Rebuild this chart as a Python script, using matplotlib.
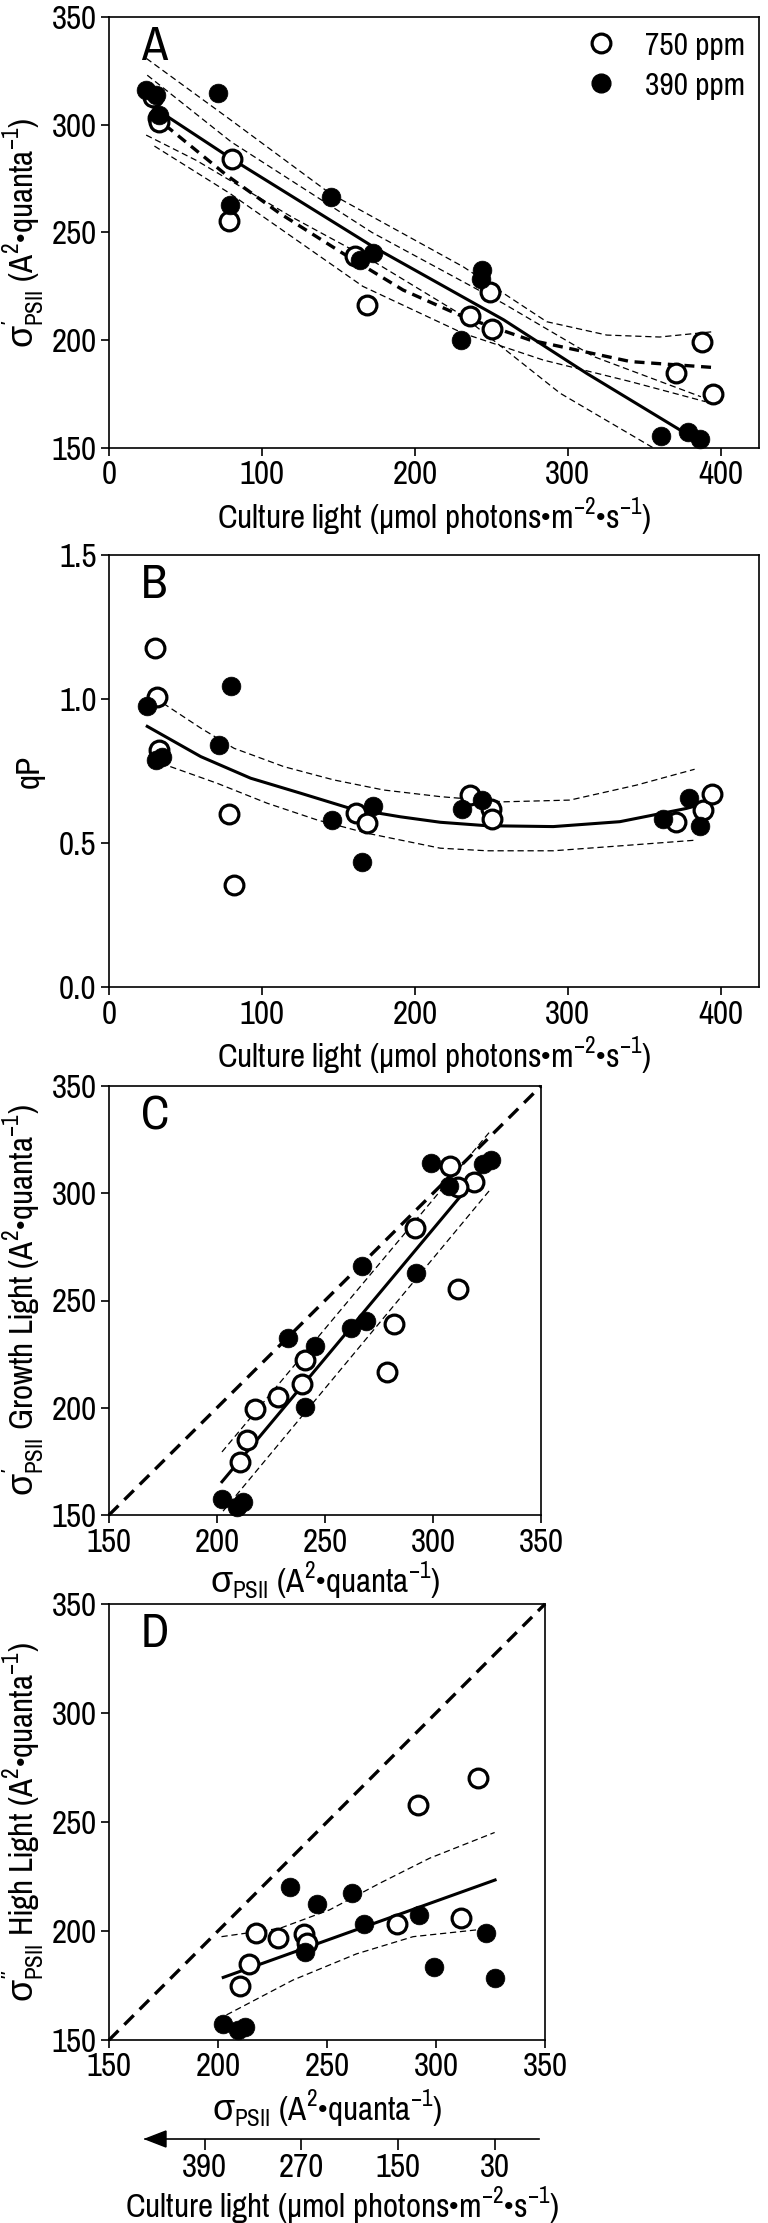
import matplotlib
matplotlib.use('Agg')
import matplotlib.pyplot as plt
from matplotlib import font_manager as fm
from matplotlib.lines import Line2D
from matplotlib.patches import Polygon

# condensed Arial-like face if one is installed
names = {f.name for f in fm.fontManager.ttflist}
prefs = ['Pragati Narrow', 'PT Sans Narrow', 'Archivo Narrow', 'Roboto Condensed', 'Liberation Sans']
base = next(n for n in prefs if n in names)

plt.rcParams.update({
    'font.family': [base, 'Liberation Sans', 'DejaVu Sans'],
    'mathtext.fontset': 'custom',
    'mathtext.rm': base,
    'mathtext.it': 'Liberation Sans',   # greek sigma comes from here
    'mathtext.bf': base,
    'mathtext.fallback': 'stixsans',
})

# ---- panel A : sigma' vs culture light
A_light_750 = [28.6, 31.9, 33, 80.6, 78.2, 160.7, 168.4, 236, 249.1, 250.2, 387.7, 370.7, 394.7]
A_sig_750 = [313, 303, 301.4, 284.0, 255.3, 239.1, 216.4, 211.3, 222.2, 205.1, 199.3, 185.0, 174.9]
A_light_390 = [24.3, 30.8, 33, 71.2, 78.8, 145.4, 164, 172.3, 230.1, 243.7, 243, 361.1, 378.6, 386.2]
A_sig_390 = [316.1, 313.8, 304.5, 314.6, 262.8, 266.3, 237.2, 240.6, 200.1, 232.6, 228.3, 155.7, 157.6, 154.0]

fit390_x = [26, 80.6, 172.7, 258, 312.4, 380]
fit390_y = [309.5, 284.0, 243.4, 209.5, 184.6, 155.5]
ci390_up_x = [25, 80, 172, 258, 317, 387]
ci390_up_y = [323, 292, 250, 217, 192.4, 173.8]
ci390_lo_x = [24.3, 57, 120, 172, 230, 295, 356]
ci390_lo_y = [295.2, 283.5, 257, 237, 212, 175.4, 150]

fit750_x = [28, 34, 76.7, 111.6, 153, 192.3, 231.6, 275.3, 341, 394.3]
fit750_y = [304.5, 301.4, 276.7, 258.9, 240.3, 223.3, 210.9, 200.1, 190.1, 187.4]
ci750_up_x = [24.4, 80, 144.4, 231.6, 286.2, 325.5, 360, 395.4]
ci750_up_y = [330.8, 302, 268.2, 234.1, 208.6, 202.4, 201.5, 204]
ci750_lo_x = [29.7, 78.9, 166, 231.6, 284, 341, 390]
ci750_lo_y = [290.1, 268.2, 225, 203.2, 190.8, 180.8, 171.5]

# ---- panel B : qP vs culture light
B_light_750 = [29.9, 31.5, 33, 78.7, 81.9, 161.5, 168.9, 236.3, 249.8, 250.7, 370.8, 388.4, 394.2]
B_qp_750 = [1.176, 1.006, 0.823, 0.602, 0.355, 0.605, 0.570, 0.666, 0.619, 0.585, 0.573, 0.614, 0.669]
B_light_390 = [25, 30.5, 34.7, 72.2, 79.6, 146, 165.4, 172.7, 230.5, 244, 362, 379, 386.2]
B_qp_390 = [0.976, 0.787, 0.799, 0.842, 1.046, 0.579, 0.434, 0.627, 0.619, 0.651, 0.585, 0.656, 0.558]

fitB_x = [25, 60, 92.6, 125.2, 157.8, 190.5, 216.6, 247, 290.5, 334, 377.5, 385]
fitB_y = [0.905, 0.800, 0.725, 0.673, 0.620, 0.591, 0.572, 0.560, 0.557, 0.574, 0.620, 0.631]
ciB_up_x = [30, 60, 81.7, 114.4, 147, 179.6, 216.6, 257.9, 301.4, 344.9, 382.9]
ciB_up_y = [1.004, 0.899, 0.829, 0.765, 0.719, 0.684, 0.661, 0.643, 0.649, 0.701, 0.756]
ciB_lo_x = [33.9, 70.9, 103.5, 136.1, 168.7, 216.6, 247, 290.5, 334, 384]
ciB_lo_y = [0.777, 0.707, 0.638, 0.580, 0.534, 0.482, 0.473, 0.473, 0.490, 0.510]

# ---- panel C : sigma' growth light vs sigma
C_sig_750 = [308.1, 319, 311.5, 291.8, 311.5, 282, 278.7, 240.6, 239.5, 228.1, 217.5, 214.1, 210.7]
C_sigp_750 = [312.8, 305.1, 302.7, 283.7, 255.4, 239.2, 216.8, 222.3, 211.3, 204.8, 199.3, 185, 174.8]
C_sig_390 = [299, 323.3, 326.9, 307.4, 267.3, 292.2, 262.1, 269.1, 232.9, 245.4, 240.6, 202.3, 209.1, 212]
C_sigp_390 = [314.3, 313.8, 315.6, 303.6, 265.9, 262.6, 237, 240.6, 232.4, 228.7, 200.2, 157.4, 153.7, 156.1]

fitC_x = [202.3, 327]
fitC_y = [165.5, 315.8]
ciC_up_x = [202.3, 326.9]
ciC_up_y = [179.4, 329.4]
ciC_lo_x = [202.8, 326.9]
ciC_lo_y = [151.8, 302.2]

# ---- panel D : sigma'' high light vs sigma
D_sig_750 = [319.2, 291.6, 311.3, 282.1, 217.6, 227.5, 239.4, 241, 214, 210.2]
D_sigpp_750 = [270.4, 257.8, 205.9, 203, 199.1, 196.6, 198.5, 194.3, 185, 174.6]
D_sig_390 = [233.1, 261.5, 245.5, 267.1, 292.4, 240.1, 323, 299, 327.1, 202.4, 209.1, 212.5]
D_sigpp_390 = [220.3, 217.6, 212.2, 203, 207.2, 190.3, 199, 183.6, 178.5, 157.2, 154.5, 155.8]

fitD_x = [202.4, 327.1]
fitD_y = [178.7, 223.4]
ciD_up_x = [201.6, 228.3, 251.2, 274.2, 297.1, 326.9]
ciD_up_y = [197.4, 201.2, 209.7, 221.9, 233.4, 245.2]
ciD_lo_x = [203.9, 234.4, 263.5, 289.5, 318.5, 326]
ciD_lo_y = [161.5, 177.5, 189.5, 197.4, 200.5, 201]

one_to_one = [150, 350]
light_ticks = [390, 270, 150, 30]

sig_lab = r'$\sigma_{\mathrm{PSII}}$ (A$^{2}$•quanta$^{-1}$)'
light_lab = r'Culture light (μmol photons•m$^{-2}$•s$^{-1}$)'
A_ylab = r'$\sigma^{\prime}_{\mathrm{PSII}}$ (A$^{2}$•quanta$^{-1}$)'
C_ylab = r'$\sigma^{\prime}_{\mathrm{PSII}}$ Growth Light (A$^{2}$•quanta$^{-1}$)'
D_ylab = r'$\sigma^{\prime\prime}_{\mathrm{PSII}}$ High Light (A$^{2}$•quanta$^{-1}$)'

W, H = 768, 2223
fig = plt.figure(figsize=(W / 100, H / 100), dpi=100)

# size the text so the culture-light label is as wide as in the figure (~435 px)
probe = fig.text(0, 0, light_lab, fontsize=20)
fig.canvas.draw()
fs = 20 * 435 / probe.get_window_extent().width
probe.remove()


def px_axes(l, t, r, b):
    return fig.add_axes([l / W, 1 - b / H, (r - l) / W, (b - t) / H])


def style(ax):
    for s in ax.spines.values():
        s.set_linewidth(1.2)
    ax.tick_params(direction='out', length=6, width=1.2, labelsize=fs, pad=3)


def points(ax, x1, y1, x2, y2):
    ax.plot(x1, y1, 'o', ms=13.5, mfc='white', mec='black', mew=2.3, ls='none', clip_on=False, zorder=5)
    ax.plot(x2, y2, 'o', ms=13.5, mfc='black', mec='black', mew=0.5, ls='none', clip_on=False, zorder=6)


def thin(ax, x, y):
    ax.plot(x, y, color='black', lw=0.9, ls=(0, (5, 3)), zorder=3)


def letter(ax, s):
    ax.annotate(s, xy=(0, 1), xycoords='axes fraction', xytext=(23, -6),
                textcoords='offset points', fontsize=fs * 1.45, va='top', ha='left')


# A
axA = px_axes(109, 17, 759, 448)
points(axA, A_light_750, A_sig_750, A_light_390, A_sig_390)
axA.plot(fit390_x, fit390_y, color='black', lw=2.2, zorder=4)
axA.plot(fit750_x, fit750_y, color='black', lw=2.4, ls=(0, (3, 2)), zorder=4)
thin(axA, ci390_up_x, ci390_up_y)
thin(axA, ci390_lo_x, ci390_lo_y)
thin(axA, ci750_up_x, ci750_up_y)
thin(axA, ci750_lo_x, ci750_lo_y)
axA.set_xlim(0, 425)
axA.set_ylim(150, 350)
axA.set_xticks([0, 100, 200, 300, 400])
axA.set_yticks([150, 200, 250, 300, 350])
axA.set_xlabel(light_lab, fontsize=fs, labelpad=3)
axA.set_ylabel(A_ylab, fontsize=fs, labelpad=4)
style(axA)
letter(axA, 'A')
handles = [Line2D([], [], marker='o', ms=13.5, mfc='white', mec='black', mew=2.3, ls='none'),
           Line2D([], [], marker='o', ms=13.5, mfc='black', mec='black', ls='none')]
axA.legend(handles, ['750 ppm', '390 ppm'], loc='upper right', frameon=False, fontsize=fs * 0.95,
           handlelength=1.0, handletextpad=0.8, labelspacing=0.35, borderpad=0.2, borderaxespad=0.2)

# B
axB = px_axes(109, 555, 759, 987)
points(axB, B_light_750, B_qp_750, B_light_390, B_qp_390)
axB.plot(fitB_x, fitB_y, color='black', lw=2.2, zorder=4)
thin(axB, ciB_up_x, ciB_up_y)
thin(axB, ciB_lo_x, ciB_lo_y)
axB.set_xlim(0, 425)
axB.set_ylim(0, 1.5)
axB.set_xticks([0, 100, 200, 300, 400])
axB.set_yticks([0, 0.5, 1.0, 1.5])
axB.set_yticklabels(['0.0', '0.5', '1.0', '1.5'])
axB.set_xlabel(light_lab, fontsize=fs, labelpad=3)
axB.set_ylabel('qP', fontsize=fs, labelpad=10)
style(axB)
letter(axB, 'B')

# C
axC = px_axes(109, 1086, 541, 1515)
points(axC, C_sig_750, C_sigp_750, C_sig_390, C_sigp_390)
axC.plot(one_to_one, one_to_one, color='black', lw=2.4, ls=(0, (4, 2.5)), zorder=4, clip_on=False)
axC.plot(fitC_x, fitC_y, color='black', lw=2.2, zorder=4)
thin(axC, ciC_up_x, ciC_up_y)
thin(axC, ciC_lo_x, ciC_lo_y)
axC.set_xlim(150, 350)
axC.set_ylim(150, 350)
axC.set_xticks([150, 200, 250, 300, 350])
axC.set_yticks([150, 200, 250, 300, 350])
axC.set_xlabel(sig_lab, fontsize=fs, labelpad=1)
axC.set_ylabel(C_ylab, fontsize=fs, labelpad=4)
style(axC)
letter(axC, 'C')

# D
axD = px_axes(109, 1604, 545, 2040)
points(axD, D_sig_750, D_sigpp_750, D_sig_390, D_sigpp_390)
axD.plot(one_to_one, one_to_one, color='black', lw=2.4, ls=(0, (4, 2.5)), zorder=4, clip_on=False)
axD.plot(fitD_x, fitD_y, color='black', lw=2.2, zorder=4)
thin(axD, ciD_up_x, ciD_up_y)
thin(axD, ciD_lo_x, ciD_lo_y)
axD.set_xlim(150, 350)
axD.set_ylim(150, 350)
axD.set_xticks([150, 200, 250, 300, 350])
axD.set_yticks([150, 200, 250, 300, 350])
axD.set_xlabel(sig_lab, fontsize=fs, labelpad=3)
axD.set_ylabel(D_ylab, fontsize=fs, labelpad=4)
style(axD)
letter(axD, 'D')

# culture light scale under D (reversed, arrow pointing to high light)
axL = px_axes(145.4, 2137, 538.7, 2139)
axL.set_xlim(463.6, -24.8)
axL.set_yticks([])
for k in ['top', 'left', 'right']:
    axL.spines[k].set_visible(False)
axL.spines['bottom'].set_linewidth(1.2)
axL.patch.set_visible(False)
axL.set_xticks(light_ticks)
axL.set_xticklabels([str(v) for v in light_ticks])
axL.tick_params(direction='out', length=8, width=1.2, labelsize=fs, pad=2)
axL.set_xlabel(light_lab, fontsize=fs, labelpad=1)
fig.patches.append(Polygon([(145.4 / W, 1 - 2139 / H), (166 / W, 1 - 2131 / H), (166 / W, 1 - 2147 / H)],
                           closed=True, transform=fig.transFigure, facecolor='black', edgecolor='black'))

fig.savefig('out.png', dpi=100)
